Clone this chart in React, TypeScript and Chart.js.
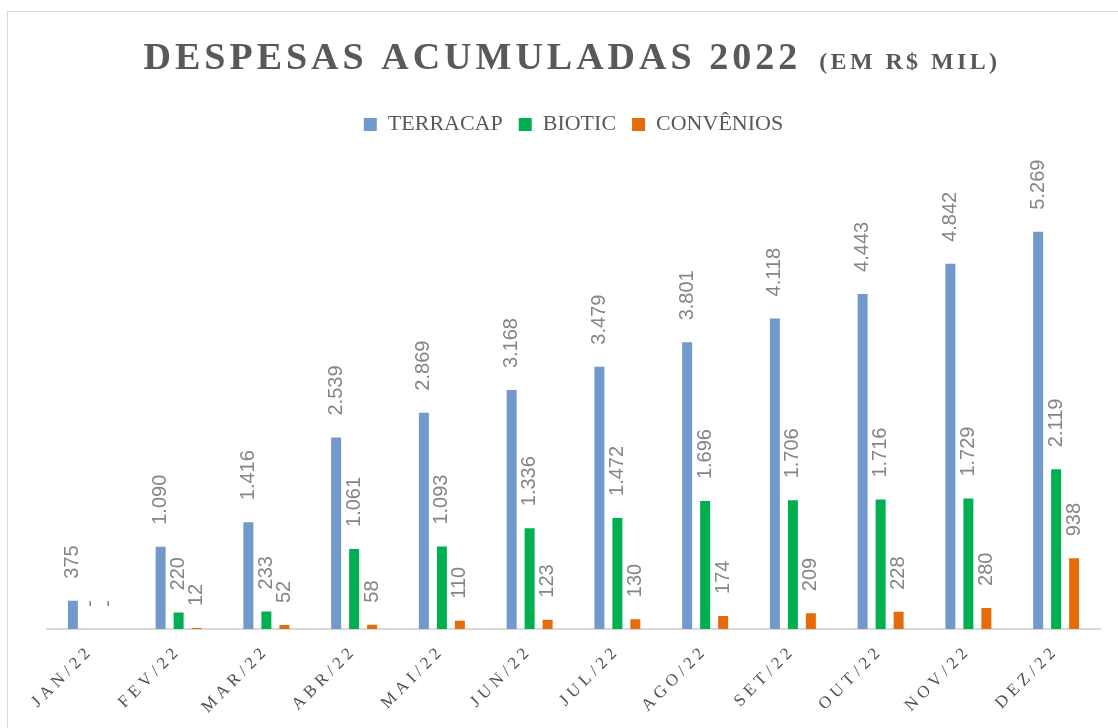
import React, { useEffect, useRef } from "react";
import { Chart, registerables } from "chart.js";

Chart.register(...registerables);

const TITLE_MAIN = "DESPESAS ACUMULADAS 2022";
const TITLE_SUB = "(EM R$ MIL)";

const months = ["JAN/22", "FEV/22", "MAR/22", "ABR/22", "MAI/22", "JUN/22", "JUL/22", "AGO/22", "SET/22", "OUT/22", "NOV/22", "DEZ/22"];
const terracap = [375, 1090, 1416, 2539, 2869, 3168, 3479, 3801, 4118, 4443, 4842, 5269];
const biotic = [0, 220, 233, 1061, 1093, 1336, 1472, 1696, 1706, 1716, 1729, 2119];
const convenios = [0, 12, 52, 58, 110, 123, 130, 174, 209, 228, 280, 938];
const seriesNames = ["TERRACAP", "BIOTIC", "CONVÊNIOS"];
const seriesColors = ["#7199CC", "#00B050", "#E46C0A"];

const fmt = (v: number) => (v === 0 ? "-" : String(v).replace(/\B(?=(\d{3})+(?!\d))/g, "."));

const CANVAS_W = 1110;
const CANVAS_H = 716;

const legendSpacer = {
  id: "legendSpacer",
  beforeLayout(chart: any) {
    const lg = chart.legend;
    if (lg && !lg.__wrapped) {
      const orig = lg.fit;
      lg.fit = function () {
        orig.call(this);
        this.height += 31;
      };
      lg.__wrapped = true;
    }
  },
};

const valueLabels = {
  id: "valueLabels",
  afterDatasetsDraw(chart: any) {
    const ctx = chart.ctx;
    chart.data.datasets.forEach((ds: any, i: number) => {
      const meta = chart.getDatasetMeta(i);
      meta.data.forEach((bar: any, j: number) => {
        const v = ds.data[j];
        ctx.save();
        ctx.letterSpacing = "0px";
        ctx.translate(bar.x, bar.y - 22);
        ctx.rotate(-Math.PI / 2);
        ctx.font = '20px "Liberation Sans"';
        ctx.fillStyle = "#858585";
        ctx.textAlign = "left";
        ctx.textBaseline = "middle";
        ctx.fillText(fmt(v), 0, 0);
        ctx.restore();
      });
    });
    // spaced letters for the x-axis tick labels drawn afterwards
    ctx.letterSpacing = "4.5px";
  },
  afterDraw(chart: any) {
    const ctx = chart.ctx;
    ctx.letterSpacing = "0px";
    ctx.save();
    ctx.fillStyle = "#595959";
    ctx.textAlign = "left";
    ctx.textBaseline = "alphabetic";
    ctx.font = 'bold 38px "Liberation Serif"';
    ctx.letterSpacing = "4px";
    const w1 = ctx.measureText(TITLE_MAIN).width;
    ctx.font = 'bold 24px "Liberation Serif"';
    ctx.letterSpacing = "3.4px";
    const w2 = ctx.measureText(TITLE_SUB).width;
    const gap = 18;
    const total = w1 + gap + w2;
    const x0 = 564 - total / 2;
    const baseY = 57;
    ctx.font = 'bold 38px "Liberation Serif"';
    ctx.letterSpacing = "4px";
    ctx.fillText(TITLE_MAIN, x0, baseY);
    ctx.font = 'bold 24px "Liberation Serif"';
    ctx.letterSpacing = "3.4px";
    ctx.fillText(TITLE_SUB, x0 + w1 + gap, baseY);
    ctx.restore();
    ctx.letterSpacing = "0px";
  },
};

export default function App() {
  const ref = useRef<HTMLCanvasElement | null>(null);

  useEffect(() => {
    if (!ref.current) return;
    const chart = new Chart(ref.current, {
      type: "bar",
      data: {
        labels: months,
        datasets: [terracap, biotic, convenios].map((d, i) => ({
          label: seriesNames[i],
          data: d,
          backgroundColor: seriesColors[i],
          borderWidth: 0,
          categoryPercentage: 0.615,
          barPercentage: 0.555,
        })),
      },
      options: {
        responsive: false,
        animation: false,
        devicePixelRatio: 1,
        layout: { padding: { top: 85.5, left: 39, right: 18, bottom: 0 } },
        plugins: {
          legend: {
            display: true,
            position: "top",
            labels: {
              font: { family: "Liberation Serif", size: 22 },
              color: "#595959",
              boxWidth: 13,
              boxHeight: 13,
              padding: 16,
            },
          },
          title: { display: false },
          tooltip: { enabled: false },
        },
        scales: {
          x: {
            grid: { display: false, drawTicks: false },
            border: { display: true, color: "#d9d9d9", width: 2 },
            ticks: {
              z: 1,
              autoSkip: false,
              maxRotation: 45,
              minRotation: 45,
              padding: 12,
              color: "#505050",
              font: { family: "Liberation Serif", size: 17 },
            },
            afterFit: (scale: any) => {
              scale.height = 99;
            },
          },
          y: {
            display: false,
            min: 0,
            max: 6000,
          },
        },
      },
      plugins: [legendSpacer, valueLabels],
    });
    return () => chart.destroy();
  }, []);

  return (
    <div
      style={{
        position: "absolute",
        left: 7,
        top: 11,
        width: 1111,
        height: 717,
        borderTop: "1px solid #d9d9d9",
        borderLeft: "1px solid #d9d9d9",
        boxSizing: "border-box",
        overflow: "hidden",
        background: "#fff",
      }}
    >
      <canvas ref={ref} width={CANVAS_W} height={CANVAS_H} style={{ display: "block", width: CANVAS_W, height: CANVAS_H }} />
    </div>
  );
}
